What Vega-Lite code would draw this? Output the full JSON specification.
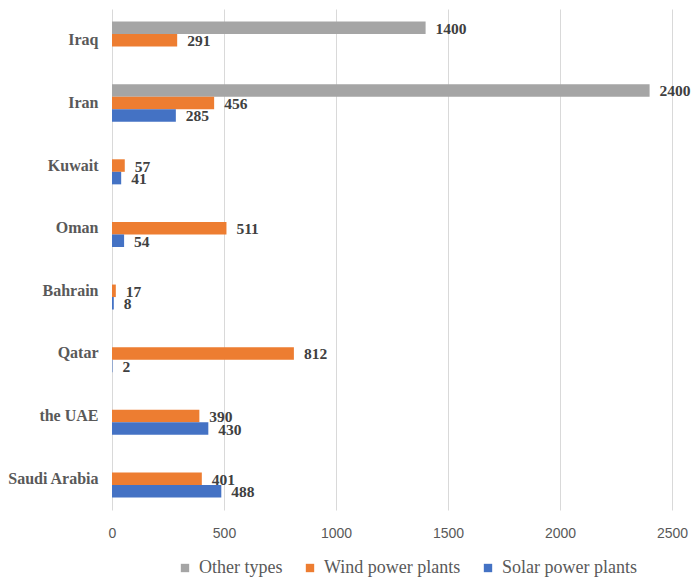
{
  "$schema": "https://vega.github.io/schema/vega-lite/v6.json",
  "width": 560,
  "height": 501,
  "autosize": {"type": "none"},
  "padding": {"left": 112, "top": 9, "right": 21, "bottom": 70},
  "background": "white",
  "config": {"view": {"stroke": null}},
  "data": {
    "values": [
      {"country": "Iraq", "type": "Other types", "value": 1400},
      {"country": "Iraq", "type": "Wind power plants", "value": 291},
      {"country": "Iran", "type": "Other types", "value": 2400},
      {"country": "Iran", "type": "Wind power plants", "value": 456},
      {"country": "Iran", "type": "Solar power plants", "value": 285},
      {"country": "Kuwait", "type": "Wind power plants", "value": 57},
      {"country": "Kuwait", "type": "Solar power plants", "value": 41},
      {"country": "Oman", "type": "Wind power plants", "value": 511},
      {"country": "Oman", "type": "Solar power plants", "value": 54},
      {"country": "Bahrain", "type": "Wind power plants", "value": 17},
      {"country": "Bahrain", "type": "Solar power plants", "value": 8},
      {"country": "Qatar", "type": "Wind power plants", "value": 812},
      {"country": "Qatar", "type": "Solar power plants", "value": 2},
      {"country": "the UAE", "type": "Wind power plants", "value": 390},
      {"country": "the UAE", "type": "Solar power plants", "value": 430},
      {"country": "Saudi Arabia", "type": "Wind power plants", "value": 401},
      {"country": "Saudi Arabia", "type": "Solar power plants", "value": 488}
    ]
  },
  "encoding": {
    "y": {
      "field": "country",
      "type": "nominal",
      "sort": ["Iraq", "Iran", "Kuwait", "Oman", "Bahrain", "Qatar", "the UAE", "Saudi Arabia"],
      "scale": {"paddingInner": 0.4, "paddingOuter": 0.2},
      "axis": {
        "title": null,
        "ticks": false,
        "domain": false,
        "labelFont": "Liberation Serif",
        "labelFontWeight": "bold",
        "labelFontSize": 16,
        "labelColor": "#595959",
        "labelPadding": 14
      }
    },
    "yOffset": {
      "field": "type",
      "type": "nominal",
      "scale": {"domain": ["Other types", "Wind power plants", "Solar power plants"], "paddingInner": 0, "paddingOuter": 0}
    },
    "x": {
      "field": "value",
      "type": "quantitative",
      "scale": {"domain": [0, 2500], "nice": false},
      "axis": {
        "title": null,
        "values": [0, 500, 1000, 1500, 2000, 2500],
        "format": "d",
        "ticks": false,
        "domain": false,
        "grid": true,
        "gridColor": "#d9d9d9",
        "gridWidth": 1,
        "labelFont": "Liberation Sans",
        "labelFontSize": 14,
        "labelColor": "#595959",
        "labelPadding": 16,
        "labelFlush": false
      }
    }
  },
  "layer": [
    {
      "mark": {"type": "bar"},
      "encoding": {
        "color": {
          "field": "type",
          "type": "nominal",
          "scale": {
            "domain": ["Other types", "Wind power plants", "Solar power plants"],
            "range": ["#A5A5A5", "#ED7D31", "#4472C4"]
          },
          "legend": {
            "title": null,
            "orient": "none",
            "direction": "horizontal",
            "legendX": 64,
            "legendY": 550,
            "symbolType": "square",
            "symbolSize": 70,
            "symbolStrokeWidth": 0,
            "labelFont": "Liberation Serif",
            "labelFontSize": 18,
            "labelColor": "#595959",
            "columnPadding": 18,
            "labelOffset": 5
          }
        }
      }
    },
    {
      "mark": {
        "type": "text",
        "align": "left",
        "baseline": "middle",
        "dx": 10,
        "dy": 1,
        "font": "Liberation Serif",
        "fontWeight": "bold",
        "fontSize": 15.5,
        "color": "#404040"
      },
      "encoding": {
        "text": {"field": "value", "type": "quantitative"}
      }
    }
  ]
}
